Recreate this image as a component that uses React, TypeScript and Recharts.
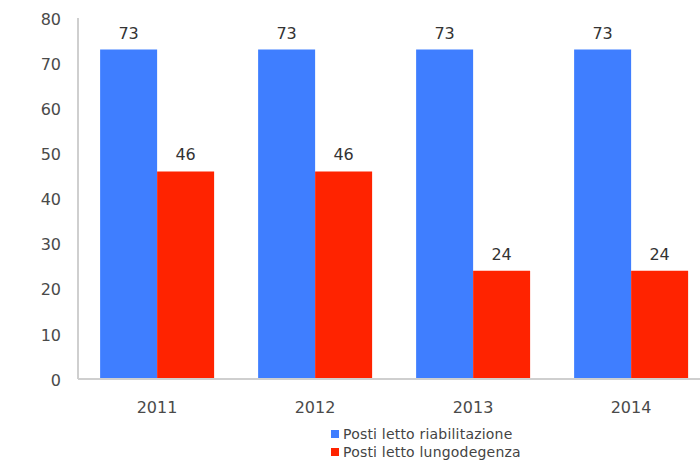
import { Bar, BarChart, LabelList, XAxis, YAxis } from "recharts";

const YEARS = ["2011", "2012", "2013", "2014"];
const RIABILITAZIONE = [73, 73, 73, 73];
const LUNGODEGENZA = [46, 46, 24, 24];
const Y_TICKS = [0, 10, 20, 30, 40, 50, 60, 70, 80];

const SERIES = [
  { key: "riab", name: "Posti letto riabilitazione", color: "#3f7eff" },
  { key: "lungo", name: "Posti letto lungodegenza", color: "#ff2300" },
];

const FONT = "'DejaVu Sans', Verdana, sans-serif";

const chartData = YEARS.map((year, i) => ({
  year,
  riab: RIABILITAZIONE[i],
  lungo: LUNGODEGENZA[i],
}));

export default function App() {
  return (
    <div
      style={{
        position: "fixed",
        left: 0,
        top: 0,
        width: 700,
        height: 462,
        overflow: "hidden",
        background: "#fff",
        fontFamily: FONT,
      }}
    >
      <BarChart
        width={720}
        height={462}
        data={chartData}
        margin={{ top: 18, right: 10, left: 0, bottom: 0 }}
        barGap={0}
        barCategoryGap="14%"
      >
        <XAxis
          dataKey="year"
          height={83}
          tickLine={false}
          tickMargin={17}
          axisLine={{ stroke: "#cfcfcf", strokeWidth: 2 }}
          tick={{ fill: "#4a4a4a", fontSize: 16, fontFamily: FONT }}
        />
        <YAxis
          width={78}
          domain={[0, 80]}
          ticks={Y_TICKS}
          interval={0}
          tickLine={false}
          tickMargin={11}
          axisLine={{ stroke: "#cfcfcf", strokeWidth: 2 }}
          tick={{ fill: "#4a4a4a", fontSize: 16, fontFamily: FONT, dy: 1 }}
        />
        {SERIES.map((s) => (
          <Bar
            key={s.key}
            dataKey={s.key}
            name={s.name}
            fill={s.color}
            isAnimationActive={false}
          >
            <LabelList
              dataKey={s.key}
              position="top"
              offset={11}
              fill="#333"
              fontSize={16}
              fontFamily={FONT}
            />
          </Bar>
        ))}
      </BarChart>
      <div style={{ position: "absolute", left: 331, top: 425 }}>
        {SERIES.map((s) => (
          <div
            key={s.key}
            style={{
              display: "flex",
              alignItems: "center",
              height: 18,
              fontSize: 14,
              letterSpacing: 0.2,
              color: "#444",
            }}
          >
            <span
              style={{
                width: 8,
                height: 8,
                background: s.color,
                marginRight: 4,
                display: "inline-block",
              }}
            />
            {s.name}
          </div>
        ))}
      </div>
    </div>
  );
}
